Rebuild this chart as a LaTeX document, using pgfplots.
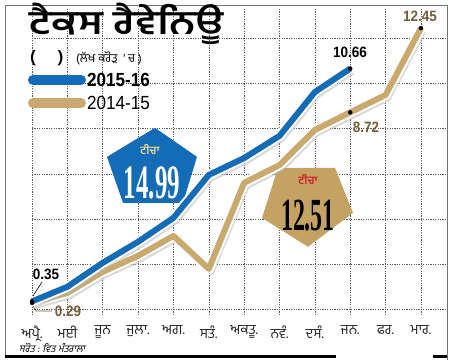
\documentclass[border=0pt]{standalone}
\usepackage{pgfplots}
\pgfplotsset{compat=1.18}
\usepackage{fontspec}
\setmainfont{Liberation Sans}
\newfontfamily\pa[Script=Gurmukhi]{Hind Jalandhar}
\newfontfamily\paT[Script=Gurmukhi,FakeStretch=1.25]{Hind Jalandhar}
\newfontfamily\paI[Script=Gurmukhi,FakeSlant=0.2]{Hind Jalandhar}
\newfontfamily\cond{Liberation Sans}[FakeStretch=0.9]
\newfontfamily\slab{Liberation Serif}[FakeStretch=0.52]
\definecolor{cblue}{RGB}{21,108,182}
\definecolor{ctan}{RGB}{201,169,110}
\definecolor{ctanfill}{RGB}{196,162,100}
\definecolor{cbrown}{RGB}{115,92,55}
\definecolor{cyel}{RGB}{240,220,140}
\definecolor{cred}{RGB}{200,30,40}
\begin{document}
\begin{tikzpicture}
\useasboundingbox (0,0) rectangle (451bp,362bp);
\begin{axis}[
  at={(32bp,47bp)}, anchor=south west,
  scale only axis, width=413bp, height=307bp,
  xmin=0, xmax=11.68, ymin=-0.25, ymax=13.34,
  clip=false,
  axis line style={draw=none},
  tick style={draw=none},
  xtick={0,...,11},
  xticklabels={ਅਪ੍ਰੈ., ਮਈ, ਜੂਨ, ਜੁਲਾ., ਅਗ., ਸਤੰ., ਅਕਤੂ., ਨਵੰ., ਦਸੰ., ਜਨ., ਫਰ., ਮਾਰ.},
  xticklabel style={font=\pa\fontsize{14bp}{16bp}\selectfont, text=black!85, yshift=-7bp},
  ytick={0,2,...,12}, yticklabels={},
  grid=major,
  major grid style={draw=black!65, line width=0.55bp, dash pattern=on 1.2bp off 1.2bp},
]
% badges (under the lines)
\draw[fill=cblue, draw=none] (axis cs:3.478,8.035) -- (axis cs:4.666,6.751) -- (axis cs:4.270,4.715) -- (axis cs:2.574,4.715) -- (axis cs:2.121,6.751) -- cycle;
\node[text=cyel, font=\pa\bfseries\fontsize{11bp}{12bp}\selectfont, inner sep=0pt] at (axis cs:3.337,7.06) {ਟੀਚਾ};
\node[text=white, font=\slab\bfseries\fontsize{48bp}{50bp}\selectfont, inner sep=0pt] at (axis cs:3.394,5.60) {14.99};
\draw[fill=ctanfill, draw=none] (axis cs:6.957,6.264) -- (axis cs:8.569,6.264) -- (axis cs:9.078,4.272) -- (axis cs:7.805,2.767) -- (axis cs:6.505,4.050) -- cycle;
\node[text=cred, font=\pa\bfseries\fontsize{11bp}{12bp}\selectfont, inner sep=0pt] at (axis cs:7.805,5.74) {ਟੀਚਾ};
\node[text=black, font=\slab\bfseries\fontsize{46bp}{48bp}\selectfont, inner sep=0pt] at (axis cs:7.805,4.16) {12.51};
% 2014-15
\addplot[draw=black!30, opacity=0.5, line width=7bp, line join=round, xshift=2bp, yshift=-3bp, forget plot] coordinates {(0,0.29)(1,0.73)(2,1.66)(3,2.37)(4,3.25)(5,1.79)(6,5.60)(7,6.39)(8,7.94)(9,8.72)(10,9.49)(11,12.45)};
\addplot[draw=white, line width=10bp, line join=round, forget plot] coordinates {(0,0.29)(1,0.73)(2,1.66)(3,2.37)(4,3.25)(5,1.79)(6,5.60)(7,6.39)(8,7.94)(9,8.72)(10,9.49)(11,12.45)};
\addplot[draw=ctan, line width=6bp, line join=round] coordinates {(0,0.29)(1,0.73)(2,1.66)(3,2.37)(4,3.25)(5,1.79)(6,5.60)(7,6.39)(8,7.94)(9,8.72)(10,9.49)(11,12.45)};
% 2015-16
\addplot[draw=black!30, opacity=0.5, line width=7bp, line join=round, xshift=2bp, yshift=-3bp, forget plot] coordinates {(0,0.35)(1,1.00)(2,2.06)(3,2.99)(4,4.05)(5,5.95)(6,6.70)(7,7.68)(8,9.62)(9,10.66)};
\addplot[draw=white, line width=10bp, line join=round, forget plot] coordinates {(0,0.35)(1,1.00)(2,2.06)(3,2.99)(4,4.05)(5,5.95)(6,6.70)(7,7.68)(8,9.62)(9,10.66)};
\addplot[draw=cblue, line width=6bp, line join=round] coordinates {(0,0.35)(1,1.00)(2,2.06)(3,2.99)(4,4.05)(5,5.95)(6,6.70)(7,7.68)(8,9.62)(9,10.66)};
% marked points
\addplot[only marks, mark=*, mark size=2bp, black] coordinates {(0,0.35)(9,10.66)(0,0.29)(9,8.72)(11,12.45)};
\end{axis}
\begin{scope}[x=1bp, y=-1bp, shift={(0,362bp)}]
% frame
\draw[black!55, line width=0.8bp] (5,357) -- (5,5) -- (447,5) -- (447,360);
\draw[black, line width=3bp] (5,357) -- (336,357);
\draw[black, line width=3bp] (433,357) -- (447,357);
% title
\node[anchor=west, inner sep=0pt, font=\paT\bfseries\fontsize{33bp}{35bp}\selectfont] at (29,24) {ਟੈਕਸ ਰੈਵੇਨਿਊ};
\node[anchor=west, inner sep=0pt, font=\pa\bfseries\fontsize{17bp}{19bp}\selectfont] at (30,58) {(\hspace{22bp})};
\node[anchor=west, inner sep=0pt, font=\pa\fontsize{12bp}{14bp}\selectfont] at (76,58) {(ਲੱਖ ਕਰੋੜ \ ' ਚ )};
% legend
\draw[cblue, line width=10bp, line cap=round] (33,80) -- (81,80);
\node[anchor=west, inner sep=0pt, font=\cond\bfseries\fontsize{19bp}{21bp}\selectfont] at (87,80) {2015-16};
\draw[ctan, line width=10bp, line cap=round] (33,103) -- (81,103);
\node[anchor=west, inner sep=0pt, font=\cond\fontsize{19bp}{21bp}\selectfont] at (87,103) {2014-15};
% value labels
\draw[black, line width=0.6bp] (33,296) -- (42,282);
\node[font=\cond\bfseries\fontsize{15bp}{17bp}\selectfont, inner sep=0pt] at (46,274) {0.35};
\draw[cbrown, line width=0.6bp] (33,306) -- (36,311) -- (52,311);
\node[text=cbrown, font=\cond\bfseries\fontsize{15bp}{17bp}\selectfont, inner sep=0pt] at (68,311) {0.29};
\node[font=\cond\bfseries\fontsize{15bp}{17bp}\selectfont, inner sep=0pt] at (350,52) {10.66};
\node[text=cbrown, font=\cond\bfseries\fontsize{15bp}{17bp}\selectfont, inner sep=0pt] at (420,16) {12.45};
\node[text=cbrown, font=\cond\bfseries\fontsize{15bp}{17bp}\selectfont, inner sep=0pt] at (366,127) {8.72};
% source
\node[anchor=west, inner sep=0pt, font=\paI\fontsize{10bp}{12bp}\selectfont] at (19,348) {ਸਰੋਤ : ਵਿਤ ਮੰਤਰਾਲਾ};
\end{scope}
\end{tikzpicture}
\end{document}
